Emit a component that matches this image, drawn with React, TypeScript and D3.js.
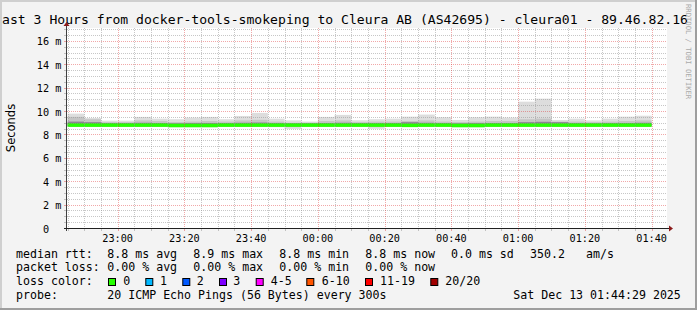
import React from "react";
import * as d3 from "d3";

// ---- data ----
const binStarts = ["22:45","22:50","22:55","23:00","23:05","23:10","23:15","23:20","23:25","23:30","23:35","23:40","23:45","23:50","23:55","00:00","00:05","00:10","00:15","00:20","00:25","00:30","00:35","00:40","00:45","00:50","00:55","01:00","01:05","01:10","01:15","01:20","01:25","01:30","01:35"];
// median rtt (ms)
const medianMs = [8.8,8.8,8.8,8.8,8.8,8.8,8.77,8.77,8.77,8.8,8.8,8.8,8.8,8.8,8.8,8.8,8.8,8.8,8.8,8.8,8.78,8.8,8.8,8.77,8.77,8.8,8.8,8.8,8.8,8.8,8.8,8.8,8.8,8.8,8.8];
// outermost smoke top (max ping)
const smokeTop = [9.78,9.4,9.18,9.18,9.5,9.35,9.3,9.44,9.5,9.3,9.58,9.84,9.35,9.2,9.1,9.5,9.67,9.21,9.3,9.35,9.52,9.7,9.47,9.24,9.47,9.52,9.44,10.8,11.06,9.24,9.35,9.2,9.35,9.52,9.6];
// second band top
const smokeTop2 = [9.5,9.3,9.05,9.05,9.2,9.15,9.05,9.1,9.15,9.1,9.2,9.25,9.1,9.0,9.0,9.15,9.2,9.05,9.1,9.1,9.15,9.2,9.1,9.05,9.1,9.15,9.15,9.3,9.35,9.1,9.1,9.05,9.1,9.15,9.2];
// third band top
const smokeTop3 = [9.1,9.05,8.97,8.97,9.0,8.98,8.95,8.97,8.98,8.97,9.0,9.02,8.97,8.95,8.95,8.98,9.0,8.97,8.97,8.97,9.05,9.0,8.97,8.95,8.97,8.98,8.98,9.05,9.08,9.05,8.97,8.95,8.97,8.98,9.0];
// inner band bottom
const smokeLow2 = [8.7,8.7,8.7,8.7,8.7,8.7,8.63,8.63,8.63,8.7,8.7,8.7,8.7,8.7,8.7,8.7,8.7,8.7,8.7,8.7,8.65,8.7,8.7,8.63,8.63,8.7,8.7,8.7,8.7,8.7,8.7,8.7,8.7,8.7,8.7];
// outermost smoke bottom (min ping)
const smokeBottom = [8.68,8.68,8.68,8.68,8.68,8.68,8.68,8.68,8.68,8.68,8.68,8.68,8.62,8.47,8.68,8.68,8.68,8.68,8.48,8.68,8.68,8.68,8.68,8.68,8.68,8.68,8.68,8.68,8.68,8.68,8.68,8.68,8.68,8.68,8.68];

const yTicks = [0,2,4,6,8,10,12,14,16];
const xTickLabels = ["23:00","23:20","23:40","00:00","00:20","00:40","01:00","01:20","01:40"];

const titleText = "Last 3 Hours from docker-tools-smokeping to Cleura AB (AS42695) - cleura01 - 89.46.82.16";
const rttRow = ["median rtt:", "8.8 ms avg", "8.9 ms max", "8.8 ms min", "8.8 ms now", "0.0 ms sd", "350.2", "am/s"];
const lossRow = ["packet loss:", "0.00 % avg", "0.00 % max", "0.00 % min", "0.00 % now"];
const lossLabels = ["0", "1", "2", "3", "4-5", "6-10", "11-19", "20/20"];
const lossColors = ["#26ff00", "#00b8ff", "#0059ff", "#7e00ff", "#ff00ff", "#ff5500", "#ff0000", "#a10000"];
const probeRow = ["probe:", "20 ICMP Echo Pings (56 Bytes) every 300s", "Sat Dec 13 01:44:29 2025"];

// ---- helpers ----
function toDate(hm: string): Date {
  const [h, m] = hm.split(":").map(Number);
  return h >= 12 ? new Date(2025, 11, 12, h, m, 0) : new Date(2025, 11, 13, h, m, 0);
}

const W = 697, H = 310;
const PL = 67, PR = 667, PT = 28, PB = 228;
const MONO = "'DejaVu Sans Mono', monospace";
const SANS = "'DejaVu Sans', sans-serif";

export default function App() {
  const x = d3.scaleTime()
    .domain([new Date(2025, 11, 12, 22, 44, 49), new Date(2025, 11, 13, 1, 44, 37)])
    .range([PL, PR]);
  const y = d3.scaleLinear().domain([0, 17.1]).range([PB, PT]);

  const bins = binStarts.map((s, i) => {
    const t0 = toDate(s);
    const t1 = d3.timeMinute.offset(t0, 5);
    return { x0: Math.max(PL, x(t0)), x1: Math.min(PR, x(t1)), i };
  });

  const minorY = d3.range(1, 35).map(k => k * 0.5).filter(v => v % 2 !== 0);
  const majorY = yTicks.filter(v => v > 0);
  const tMin = x.domain()[0], tMax = x.domain()[1];
  const minorX = d3.timeMinute.every(5)!.range(tMin, tMax).filter(d => d.getMinutes() % 20 !== 0);
  const majorX = d3.timeMinute.every(20)!.range(tMin, tMax);

  const minorC = "rgba(143,143,143,0.5)";
  const majorC = "rgba(222,48,48,0.42)";

  const legendX = [16, 107.3, 193.3, 279.3, 365.3, 451, 530, 586];
  const rowY = [257.6, 271.4, 285.2, 299];
  const boxX = [108.5, 145.8, 182.8, 219.5, 256.2, 306.8, 365.5, 430.8];
  const lblX = [123.3, 160, 196.7, 233.3, 270.7, 321.7, 380, 445.3];

  return (
    <svg width={W} height={H} style={{ display: "block", position: "absolute", left: 0, top: 0 }} xmlSpace="preserve">
      <rect x={0} y={0} width={W} height={H} fill="#f3f3f3" />
      {/* canvas */}
      <rect x={PL} y={PT} width={PR - PL} height={PB - PT} fill="#ffffff" />

      {/* smoke */}
      {bins.map(b => (
        <g key={"s" + b.i}>
          <rect x={b.x0} width={b.x1 - b.x0} y={y(smokeTop[b.i])} height={y(smokeBottom[b.i]) - y(smokeTop[b.i])} fill="#dddddd" />
          <rect x={b.x0} width={b.x1 - b.x0} y={y(smokeTop2[b.i])} height={y(smokeLow2[b.i]) - y(smokeTop2[b.i])} fill="#c4c4c4" />
          <rect x={b.x0} width={b.x1 - b.x0} y={y(smokeTop3[b.i])} height={y(smokeLow2[b.i]) - y(smokeTop3[b.i])} fill="#8c8490" />
        </g>
      ))}
      {/* median */}
      {bins.map(b => (
        <rect key={"m" + b.i} x={b.x0} width={b.x1 - b.x0} y={y(medianMs[b.i]) - 1.8} height={3.6} fill={lossColors[0]} />
      ))}

      {/* grid */}
      {minorY.map(v => (
        <line key={"hy" + v} x1={PL} x2={PR} y1={Math.round(y(v)) + 0.5} y2={Math.round(y(v)) + 0.5} stroke={minorC} strokeDasharray="1,1" />
      ))}
      {majorY.map(v => (
        <line key={"hY" + v} x1={PL} x2={PR} y1={Math.round(y(v)) + 0.5} y2={Math.round(y(v)) + 0.5} stroke={majorC} strokeDasharray="1,1" />
      ))}
      {minorX.map(d => (
        <line key={"vx" + +d} y1={PT} y2={PB} x1={Math.round(x(d)) + 0.5} x2={Math.round(x(d)) + 0.5} stroke={minorC} strokeDasharray="1,1" />
      ))}
      {majorX.map(d => (
        <line key={"vX" + +d} y1={PT} y2={PB} x1={Math.round(x(d)) + 0.5} x2={Math.round(x(d)) + 0.5} stroke={majorC} strokeDasharray="1,1" />
      ))}
      {/* tick marks */}
      {minorY.map(v => (
        <line key={"ty" + v} x1={PL - 3} x2={PL} y1={Math.round(y(v)) + 0.5} y2={Math.round(y(v)) + 0.5} stroke={minorC} />
      ))}
      {majorY.map(v => (
        <line key={"tY" + v} x1={PL - 3} x2={PL} y1={Math.round(y(v)) + 0.5} y2={Math.round(y(v)) + 0.5} stroke={majorC} />
      ))}
      {minorX.map(d => (
        <line key={"tx" + +d} y1={PB} y2={PB + 3} x1={Math.round(x(d)) + 0.5} x2={Math.round(x(d)) + 0.5} stroke={minorC} />
      ))}
      {majorX.map(d => (
        <line key={"tX" + +d} y1={PB} y2={PB + 3} x1={Math.round(x(d)) + 0.5} x2={Math.round(x(d)) + 0.5} stroke={majorC} />
      ))}

      {/* axes */}
      <line x1={PL - 0.5} x2={PL - 0.5} y1={PB + 3} y2={PT - 4} stroke="#404040" />
      <line x1={PL - 3} x2={PR + 3} y1={PB + 0.5} y2={PB + 0.5} stroke="#202020" />
      <path d={`M${PL - 3.5},${PT - 2} L${PL - 0.5},${PT - 6} L${PL + 2.5},${PT - 2} Z`} fill="#8b1a1a" />
      <path d={`M${PR + 2},${PB - 2.5} L${PR + 6},${PB + 0.5} L${PR + 2},${PB + 3.5} Z`} fill="#8b1a1a" />

      {/* y tick labels */}
      {yTicks.map(v => (
        <text key={"yl" + v} x={61.3} y={y(v) + 4.5} textAnchor="end" fontFamily={MONO} fontSize={10.2} fill="#000" style={{ whiteSpace: "pre" }}>
          {v === 0 ? "0  " : `${v} m`}
        </text>
      ))}
      {/* x tick labels */}
      {xTickLabels.map(s => (
        <text key={"xl" + s} x={x(toDate(s))} y={241.7} textAnchor="middle" fontFamily={MONO} fontSize={10.2} fill="#000">{s}</text>
      ))}

      {/* y axis title */}
      <text transform={`translate(14.5,${(PT + PB) / 2}) rotate(-90)`} textAnchor="middle" fontFamily={SANS} fontSize={11.5} fill="#000">Seconds</text>

      {/* title */}
      <text x={-5.8} y={23.7} fontFamily={MONO} fontSize={13.1} fill="#000">{titleText}</text>

      {/* watermark */}
      <text transform="translate(685.5,4) rotate(90)" fontFamily={MONO} fontSize={7.2} fill="#aaaaaa">RRDTOOL / TOBI OETIKER</text>

      {/* legend */}
      {rttRow.map((s, i) => (
        <text key={"r" + i} x={legendX[i]} y={rowY[0]} fontFamily={MONO} fontSize={11.6} fill="#000">{s}</text>
      ))}
      {lossRow.map((s, i) => (
        <text key={"l" + i} x={legendX[i]} y={rowY[1]} fontFamily={MONO} fontSize={11.6} fill="#000">{s}</text>
      ))}
      <text x={16} y={rowY[2]} fontFamily={MONO} fontSize={11.6} fill="#000">loss color:</text>
      {lossLabels.map((s, i) => (
        <g key={"lc" + i}>
          <rect x={boxX[i]} y={278.5} width={7} height={7} fill={lossColors[i]} stroke="#000" strokeWidth={1} />
          <text x={lblX[i]} y={rowY[2]} fontFamily={MONO} fontSize={11.6} fill="#000">{s}</text>
        </g>
      ))}
      <text x={16} y={rowY[3]} fontFamily={MONO} fontSize={11.6} fill="#000">{probeRow[0]}</text>
      <text x={107.3} y={rowY[3]} fontFamily={MONO} fontSize={11.6} fill="#000">{probeRow[1]}</text>
      <text x={513.3} y={rowY[3]} fontFamily={MONO} fontSize={11.6} fill="#000">{probeRow[2]}</text>

      {/* frame shading */}
      <rect x={0} y={0} width={W} height={2} fill="#cfcfcf" />
      <rect x={0} y={0} width={2} height={H} fill="#cfcfcf" />
      <rect x={W - 2} y={0} width={2} height={H} fill="#9e9e9e" />
      <rect x={0} y={H - 2} width={W} height={2} fill="#9e9e9e" />
    </svg>
  );
}
